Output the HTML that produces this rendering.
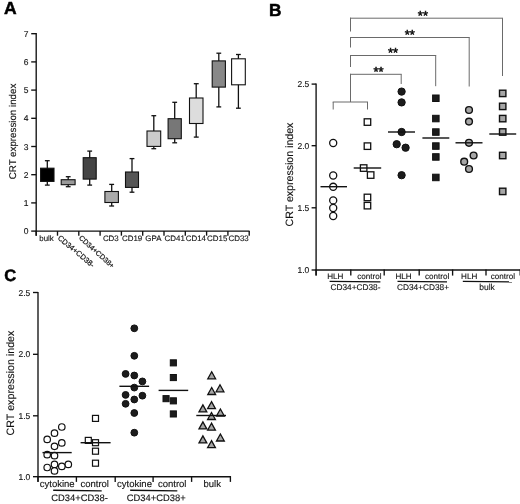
<!DOCTYPE html>
<html><head><meta charset="utf-8"><title>Figure</title>
<style>
html,body{margin:0;padding:0;background:#fff;}
body{width:520px;height:504px;overflow:hidden;font-family:"Liberation Sans",sans-serif;}
svg{display:block;}
svg text{font-family:"Liberation Sans",sans-serif;text-rendering:geometricPrecision;}
</style></head><body>
<svg width="520" height="504" viewBox="0 0 520 504" style="filter:grayscale(1)">
<rect width="520" height="504" fill="#fff"/>
<text x="3.9" y="14.3" font-size="17.5" text-anchor="start" font-weight="bold" fill="#000" stroke="#000" stroke-width="0.5">A</text>
<text x="268.9" y="15.5" font-size="17.3" text-anchor="start" font-weight="bold" fill="#000" stroke="#000" stroke-width="0.5">B</text>
<text x="4.3" y="280.8" font-size="16.5" text-anchor="start" font-weight="bold" fill="#000" stroke="#000" stroke-width="0.5">C</text>
<line x1="36.2" y1="33.1" x2="36.2" y2="235.7" stroke="#111" stroke-width="1.35"/>
<line x1="35.7" y1="231.1" x2="249.5" y2="231.1" stroke="#111" stroke-width="1.35"/>
<line x1="31.2" y1="231.1" x2="36.2" y2="231.1" stroke="#111" stroke-width="1.35"/>
<text x="28.6" y="234.1" font-size="8.5" text-anchor="end" font-weight="normal" fill="#111" stroke="#111" stroke-width="0.12">0</text>
<line x1="31.2" y1="202.9" x2="36.2" y2="202.9" stroke="#111" stroke-width="1.35"/>
<text x="28.6" y="205.9" font-size="8.5" text-anchor="end" font-weight="normal" fill="#111" stroke="#111" stroke-width="0.12">1</text>
<line x1="31.2" y1="174.7" x2="36.2" y2="174.7" stroke="#111" stroke-width="1.35"/>
<text x="28.6" y="177.7" font-size="8.5" text-anchor="end" font-weight="normal" fill="#111" stroke="#111" stroke-width="0.12">2</text>
<line x1="31.2" y1="146.5" x2="36.2" y2="146.5" stroke="#111" stroke-width="1.35"/>
<text x="28.6" y="149.5" font-size="8.5" text-anchor="end" font-weight="normal" fill="#111" stroke="#111" stroke-width="0.12">3</text>
<line x1="31.2" y1="118.3" x2="36.2" y2="118.3" stroke="#111" stroke-width="1.35"/>
<text x="28.6" y="121.3" font-size="8.5" text-anchor="end" font-weight="normal" fill="#111" stroke="#111" stroke-width="0.12">4</text>
<line x1="31.2" y1="90.1" x2="36.2" y2="90.1" stroke="#111" stroke-width="1.35"/>
<text x="28.6" y="93.1" font-size="8.5" text-anchor="end" font-weight="normal" fill="#111" stroke="#111" stroke-width="0.12">5</text>
<line x1="31.2" y1="61.9" x2="36.2" y2="61.9" stroke="#111" stroke-width="1.35"/>
<text x="28.6" y="64.9" font-size="8.5" text-anchor="end" font-weight="normal" fill="#111" stroke="#111" stroke-width="0.12">6</text>
<line x1="31.2" y1="33.7" x2="36.2" y2="33.7" stroke="#111" stroke-width="1.35"/>
<text x="28.6" y="36.7" font-size="8.5" text-anchor="end" font-weight="normal" fill="#111" stroke="#111" stroke-width="0.12">7</text>
<line x1="36.2" y1="231.1" x2="36.2" y2="235.7" stroke="#111" stroke-width="1.35"/>
<line x1="57.5" y1="231.1" x2="57.5" y2="235.7" stroke="#111" stroke-width="1.35"/>
<line x1="78.8" y1="231.1" x2="78.8" y2="235.7" stroke="#111" stroke-width="1.35"/>
<line x1="100.1" y1="231.1" x2="100.1" y2="235.7" stroke="#111" stroke-width="1.35"/>
<line x1="121.4" y1="231.1" x2="121.4" y2="235.7" stroke="#111" stroke-width="1.35"/>
<line x1="142.7" y1="231.1" x2="142.7" y2="235.7" stroke="#111" stroke-width="1.35"/>
<line x1="164.0" y1="231.1" x2="164.0" y2="235.7" stroke="#111" stroke-width="1.35"/>
<line x1="185.3" y1="231.1" x2="185.3" y2="235.7" stroke="#111" stroke-width="1.35"/>
<line x1="206.6" y1="231.1" x2="206.6" y2="235.7" stroke="#111" stroke-width="1.35"/>
<line x1="227.9" y1="231.1" x2="227.9" y2="235.7" stroke="#111" stroke-width="1.35"/>
<line x1="249.2" y1="231.1" x2="249.2" y2="235.7" stroke="#111" stroke-width="1.35"/>
<text x="15.6" y="131.5" font-size="9.75" text-anchor="middle" font-weight="normal" fill="#111" stroke="#111" stroke-width="0.12" transform="rotate(-90 15.6 131.5)">CRT expression index</text>
<line x1="47.3" y1="160.7" x2="47.3" y2="185.1" stroke="#111" stroke-width="1.3"/>
<line x1="44.9" y1="160.7" x2="49.7" y2="160.7" stroke="#111" stroke-width="1.3"/>
<line x1="44.9" y1="185.1" x2="49.7" y2="185.1" stroke="#111" stroke-width="1.3"/>
<rect x="40.6" y="168.2" width="13.4" height="13.2" fill="#000" stroke="#111" stroke-width="1.1"/>
<line x1="68.2" y1="176.7" x2="68.2" y2="186.7" stroke="#111" stroke-width="1.3"/>
<line x1="65.8" y1="176.7" x2="70.6" y2="176.7" stroke="#111" stroke-width="1.3"/>
<line x1="65.8" y1="186.7" x2="70.6" y2="186.7" stroke="#111" stroke-width="1.3"/>
<rect x="61.2" y="179.7" width="13.9" height="5.0" fill="#999" stroke="#111" stroke-width="1.1"/>
<line x1="89.7" y1="151.1" x2="89.7" y2="185.1" stroke="#111" stroke-width="1.3"/>
<line x1="87.3" y1="151.1" x2="92.1" y2="151.1" stroke="#111" stroke-width="1.3"/>
<line x1="87.3" y1="185.1" x2="92.1" y2="185.1" stroke="#111" stroke-width="1.3"/>
<rect x="83.2" y="157.7" width="13.0" height="21.4" fill="#444" stroke="#111" stroke-width="1.1"/>
<line x1="111.7" y1="184.4" x2="111.7" y2="206.0" stroke="#111" stroke-width="1.3"/>
<line x1="109.2" y1="184.4" x2="114.1" y2="184.4" stroke="#111" stroke-width="1.3"/>
<line x1="109.2" y1="206.0" x2="114.1" y2="206.0" stroke="#111" stroke-width="1.3"/>
<rect x="104.9" y="191.5" width="13.5" height="11.0" fill="#aaa" stroke="#111" stroke-width="1.1"/>
<line x1="132.0" y1="158.6" x2="132.0" y2="192.2" stroke="#111" stroke-width="1.3"/>
<line x1="129.6" y1="158.6" x2="134.4" y2="158.6" stroke="#111" stroke-width="1.3"/>
<line x1="129.6" y1="192.2" x2="134.4" y2="192.2" stroke="#111" stroke-width="1.3"/>
<rect x="125.5" y="172.0" width="13.0" height="15.4" fill="#555" stroke="#111" stroke-width="1.1"/>
<line x1="153.8" y1="115.7" x2="153.8" y2="148.7" stroke="#111" stroke-width="1.3"/>
<line x1="151.4" y1="115.7" x2="156.2" y2="115.7" stroke="#111" stroke-width="1.3"/>
<line x1="151.4" y1="148.7" x2="156.2" y2="148.7" stroke="#111" stroke-width="1.3"/>
<rect x="147.0" y="131.0" width="13.7" height="15.4" fill="#ccc" stroke="#111" stroke-width="1.1"/>
<line x1="174.7" y1="102.3" x2="174.7" y2="142.8" stroke="#111" stroke-width="1.3"/>
<line x1="172.3" y1="102.3" x2="177.1" y2="102.3" stroke="#111" stroke-width="1.3"/>
<line x1="172.3" y1="142.8" x2="177.1" y2="142.8" stroke="#111" stroke-width="1.3"/>
<rect x="168.1" y="118.7" width="13.2" height="20.0" fill="#777" stroke="#111" stroke-width="1.1"/>
<line x1="196.2" y1="83.7" x2="196.2" y2="137.1" stroke="#111" stroke-width="1.3"/>
<line x1="193.8" y1="83.7" x2="198.7" y2="83.7" stroke="#111" stroke-width="1.3"/>
<line x1="193.8" y1="137.1" x2="198.7" y2="137.1" stroke="#111" stroke-width="1.3"/>
<rect x="189.5" y="98.0" width="13.5" height="25.5" fill="#ddd" stroke="#111" stroke-width="1.1"/>
<line x1="218.8" y1="53.2" x2="218.8" y2="106.9" stroke="#111" stroke-width="1.3"/>
<line x1="216.4" y1="53.2" x2="221.2" y2="53.2" stroke="#111" stroke-width="1.3"/>
<line x1="216.4" y1="106.9" x2="221.2" y2="106.9" stroke="#111" stroke-width="1.3"/>
<rect x="212.2" y="60.9" width="13.2" height="26.2" fill="#888" stroke="#111" stroke-width="1.1"/>
<line x1="238.4" y1="54.5" x2="238.4" y2="108.2" stroke="#111" stroke-width="1.3"/>
<line x1="236.0" y1="54.5" x2="240.8" y2="54.5" stroke="#111" stroke-width="1.3"/>
<line x1="236.0" y1="108.2" x2="240.8" y2="108.2" stroke="#111" stroke-width="1.3"/>
<rect x="231.6" y="58.8" width="13.7" height="26.0" fill="#fff" stroke="#111" stroke-width="1.1"/>
<text x="46.6" y="240.5" font-size="7.9" text-anchor="middle" font-weight="normal" fill="#111" stroke="#111" stroke-width="0.12">bulk</text>
<text x="110.8" y="240.5" font-size="7.9" text-anchor="middle" font-weight="normal" fill="#111" stroke="#111" stroke-width="0.12">CD3</text>
<text x="132.1" y="240.5" font-size="7.9" text-anchor="middle" font-weight="normal" fill="#111" stroke="#111" stroke-width="0.12">CD19</text>
<text x="153.4" y="240.5" font-size="7.9" text-anchor="middle" font-weight="normal" fill="#111" stroke="#111" stroke-width="0.12">GPA</text>
<text x="174.7" y="240.5" font-size="7.9" text-anchor="middle" font-weight="normal" fill="#111" stroke="#111" stroke-width="0.12">CD41</text>
<text x="195.9" y="240.5" font-size="7.9" text-anchor="middle" font-weight="normal" fill="#111" stroke="#111" stroke-width="0.12">CD14</text>
<text x="217.2" y="240.5" font-size="7.9" text-anchor="middle" font-weight="normal" fill="#111" stroke="#111" stroke-width="0.12">CD15</text>
<text x="238.6" y="240.5" font-size="7.9" text-anchor="middle" font-weight="normal" fill="#111" stroke="#111" stroke-width="0.12">CD33</text>
<text x="60.7" y="234.6" font-size="7.5" fill="#111" stroke="#111" stroke-width="0.2" transform="rotate(40 60.7 234.6)" dy="5.4">CD34+CD38-</text>
<text x="82.0" y="234.6" font-size="7.15" fill="#111" stroke="#111" stroke-width="0.2" transform="rotate(42 82.0 234.6)" dy="5.4">CD34+CD38+</text>
<line x1="316.1" y1="83.5" x2="316.1" y2="275.4" stroke="#111" stroke-width="1.35"/>
<line x1="315.6" y1="270.0" x2="520.0" y2="270.0" stroke="#111" stroke-width="1.35"/>
<line x1="311.6" y1="270.0" x2="316.1" y2="270.0" stroke="#111" stroke-width="1.35"/>
<text x="309.3" y="273.0" font-size="8.5" text-anchor="end" font-weight="normal" fill="#111" stroke="#111" stroke-width="0.12">1.0</text>
<line x1="311.6" y1="207.8" x2="316.1" y2="207.8" stroke="#111" stroke-width="1.35"/>
<text x="309.3" y="210.8" font-size="8.5" text-anchor="end" font-weight="normal" fill="#111" stroke="#111" stroke-width="0.12">1.5</text>
<line x1="311.6" y1="145.7" x2="316.1" y2="145.7" stroke="#111" stroke-width="1.35"/>
<text x="309.3" y="148.7" font-size="8.5" text-anchor="end" font-weight="normal" fill="#111" stroke="#111" stroke-width="0.12">2.0</text>
<line x1="311.6" y1="84.1" x2="316.1" y2="84.1" stroke="#111" stroke-width="1.35"/>
<text x="309.3" y="87.1" font-size="8.5" text-anchor="end" font-weight="normal" fill="#111" stroke="#111" stroke-width="0.12">2.5</text>
<line x1="316.1" y1="269.5" x2="316.1" y2="275.6" stroke="#111" stroke-width="1.35"/>
<line x1="350.8" y1="269.5" x2="350.8" y2="275.6" stroke="#111" stroke-width="1.35"/>
<line x1="384.2" y1="269.5" x2="384.2" y2="275.6" stroke="#111" stroke-width="1.35"/>
<line x1="419.2" y1="269.5" x2="419.2" y2="275.6" stroke="#111" stroke-width="1.35"/>
<line x1="452.6" y1="269.5" x2="452.6" y2="275.6" stroke="#111" stroke-width="1.35"/>
<line x1="486.0" y1="269.5" x2="486.0" y2="275.6" stroke="#111" stroke-width="1.35"/>
<line x1="520.2" y1="269.5" x2="520.2" y2="275.6" stroke="#111" stroke-width="1.35"/>
<text x="293.2" y="174.5" font-size="10.6" text-anchor="middle" font-weight="normal" fill="#111" stroke="#111" stroke-width="0.12" transform="rotate(-90 293.2 174.5)">CRT expression index</text>
<line x1="350.5" y1="31.5" x2="350.5" y2="17.7" stroke="#6a6a6a" stroke-width="1.0"/>
<line x1="350.0" y1="18.2" x2="503.0" y2="18.2" stroke="#6a6a6a" stroke-width="1.0"/>
<line x1="502.5" y1="18.2" x2="502.5" y2="76.0" stroke="#6a6a6a" stroke-width="1.0"/>
<line x1="350.5" y1="47.5" x2="350.5" y2="37.0" stroke="#6a6a6a" stroke-width="1.0"/>
<line x1="350.0" y1="37.5" x2="469.7" y2="37.5" stroke="#6a6a6a" stroke-width="1.0"/>
<line x1="469.2" y1="37.5" x2="469.2" y2="86.5" stroke="#6a6a6a" stroke-width="1.0"/>
<line x1="350.5" y1="67.0" x2="350.5" y2="55.0" stroke="#6a6a6a" stroke-width="1.0"/>
<line x1="350.0" y1="55.5" x2="436.2" y2="55.5" stroke="#6a6a6a" stroke-width="1.0"/>
<line x1="435.7" y1="55.5" x2="435.7" y2="86.2" stroke="#6a6a6a" stroke-width="1.0"/>
<line x1="350.5" y1="102.0" x2="350.5" y2="73.8" stroke="#6a6a6a" stroke-width="1.0"/>
<line x1="350.0" y1="74.3" x2="401.7" y2="74.3" stroke="#6a6a6a" stroke-width="1.0"/>
<line x1="401.2" y1="74.3" x2="401.2" y2="84.0" stroke="#6a6a6a" stroke-width="1.0"/>
<line x1="333.2" y1="109.5" x2="333.2" y2="102.0" stroke="#6a6a6a" stroke-width="1.0"/>
<line x1="332.7" y1="102.0" x2="368.0" y2="102.0" stroke="#6a6a6a" stroke-width="1.0"/>
<line x1="367.5" y1="102.0" x2="367.5" y2="109.5" stroke="#6a6a6a" stroke-width="1.0"/>
<text x="422.9" y="19.7" font-size="13" text-anchor="middle" fill="#111" stroke="#111" stroke-width="0.55">**</text>
<text x="409.7" y="39.2" font-size="13" text-anchor="middle" fill="#111" stroke="#111" stroke-width="0.55">**</text>
<text x="393.0" y="57.0" font-size="13" text-anchor="middle" fill="#111" stroke="#111" stroke-width="0.55">**</text>
<text x="378.6" y="76.2" font-size="13" text-anchor="middle" fill="#111" stroke="#111" stroke-width="0.55">**</text>
<circle cx="333.2" cy="143.0" r="3.55" fill="#fff" stroke="#111" stroke-width="1.3"/>
<circle cx="333.2" cy="175.5" r="3.55" fill="#fff" stroke="#111" stroke-width="1.3"/>
<circle cx="333.2" cy="186.8" r="3.55" fill="#fff" stroke="#111" stroke-width="1.3"/>
<circle cx="333.2" cy="200.4" r="3.55" fill="#fff" stroke="#111" stroke-width="1.3"/>
<circle cx="333.2" cy="208.0" r="3.55" fill="#fff" stroke="#111" stroke-width="1.3"/>
<circle cx="333.2" cy="216.0" r="3.55" fill="#fff" stroke="#111" stroke-width="1.3"/>
<line x1="320.5" y1="186.7" x2="347.0" y2="186.7" stroke="#111" stroke-width="1.4"/>
<rect x="364.2" y="118.8" width="6.5" height="6.5" fill="#fff" stroke="#111" stroke-width="1.3"/>
<rect x="364.2" y="142.9" width="6.5" height="6.5" fill="#fff" stroke="#111" stroke-width="1.3"/>
<rect x="360.4" y="164.8" width="6.5" height="6.5" fill="#fff" stroke="#111" stroke-width="1.3"/>
<rect x="367.4" y="171.8" width="6.5" height="6.5" fill="#fff" stroke="#111" stroke-width="1.3"/>
<rect x="364.2" y="194.2" width="6.5" height="6.5" fill="#fff" stroke="#111" stroke-width="1.3"/>
<rect x="364.2" y="202.4" width="6.5" height="6.5" fill="#fff" stroke="#111" stroke-width="1.3"/>
<line x1="353.7" y1="168.0" x2="381.2" y2="168.0" stroke="#111" stroke-width="1.4"/>
<circle cx="401.6" cy="91.6" r="3.65" fill="#1c1c1c" stroke="#111" stroke-width="1.0"/>
<circle cx="401.6" cy="102.4" r="3.65" fill="#1c1c1c" stroke="#111" stroke-width="1.0"/>
<circle cx="401.6" cy="132.0" r="3.65" fill="#1c1c1c" stroke="#111" stroke-width="1.0"/>
<circle cx="396.7" cy="144.2" r="3.65" fill="#1c1c1c" stroke="#111" stroke-width="1.0"/>
<circle cx="405.6" cy="147.7" r="3.65" fill="#1c1c1c" stroke="#111" stroke-width="1.0"/>
<circle cx="401.6" cy="175.2" r="3.65" fill="#1c1c1c" stroke="#111" stroke-width="1.0"/>
<line x1="388.0" y1="132.0" x2="415.0" y2="132.0" stroke="#111" stroke-width="1.4"/>
<rect x="432.6" y="95.0" width="6.5" height="6.5" fill="#1c1c1c" stroke="#111" stroke-width="1.0"/>
<rect x="432.6" y="115.3" width="6.5" height="6.5" fill="#1c1c1c" stroke="#111" stroke-width="1.0"/>
<rect x="432.6" y="128.8" width="6.5" height="6.5" fill="#1c1c1c" stroke="#111" stroke-width="1.0"/>
<rect x="432.6" y="142.8" width="6.5" height="6.5" fill="#1c1c1c" stroke="#111" stroke-width="1.0"/>
<rect x="432.6" y="153.7" width="6.5" height="6.5" fill="#1c1c1c" stroke="#111" stroke-width="1.0"/>
<rect x="432.6" y="174.2" width="6.5" height="6.5" fill="#1c1c1c" stroke="#111" stroke-width="1.0"/>
<line x1="422.4" y1="138.0" x2="449.3" y2="138.0" stroke="#111" stroke-width="1.4"/>
<circle cx="469.0" cy="110.0" r="3.4" fill="#a6a6a6" stroke="#111" stroke-width="1.4"/>
<circle cx="469.0" cy="121.6" r="3.4" fill="#a6a6a6" stroke="#111" stroke-width="1.4"/>
<circle cx="469.0" cy="142.8" r="3.4" fill="#a6a6a6" stroke="#111" stroke-width="1.4"/>
<circle cx="473.6" cy="155.5" r="3.4" fill="#a6a6a6" stroke="#111" stroke-width="1.4"/>
<circle cx="464.2" cy="161.7" r="3.4" fill="#a6a6a6" stroke="#111" stroke-width="1.4"/>
<circle cx="469.0" cy="169.0" r="3.4" fill="#a6a6a6" stroke="#111" stroke-width="1.4"/>
<line x1="455.5" y1="142.8" x2="482.5" y2="142.8" stroke="#111" stroke-width="1.4"/>
<rect x="499.5" y="90.2" width="6.4" height="6.4" fill="#a6a6a6" stroke="#111" stroke-width="1.4"/>
<rect x="499.5" y="103.2" width="6.4" height="6.4" fill="#a6a6a6" stroke="#111" stroke-width="1.4"/>
<rect x="499.5" y="115.4" width="6.4" height="6.4" fill="#a6a6a6" stroke="#111" stroke-width="1.4"/>
<rect x="499.5" y="128.8" width="6.4" height="6.4" fill="#a6a6a6" stroke="#111" stroke-width="1.4"/>
<rect x="499.5" y="152.3" width="6.4" height="6.4" fill="#a6a6a6" stroke="#111" stroke-width="1.4"/>
<rect x="499.5" y="188.2" width="6.4" height="6.4" fill="#a6a6a6" stroke="#111" stroke-width="1.4"/>
<line x1="489.3" y1="134.0" x2="516.2" y2="134.0" stroke="#111" stroke-width="1.4"/>
<text x="335.3" y="279.2" font-size="8.1" text-anchor="middle" font-weight="normal" fill="#111" stroke="#111" stroke-width="0.12">HLH</text>
<text x="369.3" y="279.2" font-size="8.1" text-anchor="middle" font-weight="normal" fill="#111" stroke="#111" stroke-width="0.12">control</text>
<text x="403.5" y="279.2" font-size="8.1" text-anchor="middle" font-weight="normal" fill="#111" stroke="#111" stroke-width="0.12">HLH</text>
<text x="437.2" y="279.2" font-size="8.1" text-anchor="middle" font-weight="normal" fill="#111" stroke="#111" stroke-width="0.12">control</text>
<text x="469.2" y="279.2" font-size="8.1" text-anchor="middle" font-weight="normal" fill="#111" stroke="#111" stroke-width="0.12">HLH</text>
<text x="502.9" y="279.2" font-size="8.1" text-anchor="middle" font-weight="normal" fill="#111" stroke="#111" stroke-width="0.12">control</text>
<line x1="329.6" y1="281.4" x2="380.4" y2="281.9" stroke="#111" stroke-width="1.4"/>
<text x="355.5" y="290.0" font-size="8.3" text-anchor="middle" font-weight="normal" fill="#111" stroke="#111" stroke-width="0.12">CD34+CD38-</text>
<line x1="397.5" y1="281.4" x2="447.0" y2="281.9" stroke="#111" stroke-width="1.4"/>
<text x="423.0" y="290.0" font-size="8.3" text-anchor="middle" font-weight="normal" fill="#111" stroke="#111" stroke-width="0.12">CD34+CD38+</text>
<line x1="462.8" y1="281.4" x2="512.0" y2="281.9" stroke="#111" stroke-width="1.4"/>
<text x="487.0" y="290.0" font-size="8.5" text-anchor="middle" font-weight="normal" fill="#111" stroke="#111" stroke-width="0.12">bulk</text>
<line x1="38.0" y1="291.9" x2="38.0" y2="481.7" stroke="#111" stroke-width="1.35"/>
<line x1="37.5" y1="476.7" x2="230.9" y2="476.7" stroke="#111" stroke-width="1.35"/>
<line x1="33.0" y1="476.7" x2="38.0" y2="476.7" stroke="#111" stroke-width="1.35"/>
<text x="30.3" y="479.7" font-size="8.5" text-anchor="end" font-weight="normal" fill="#111" stroke="#111" stroke-width="0.12">1.0</text>
<line x1="33.0" y1="415.8" x2="38.0" y2="415.8" stroke="#111" stroke-width="1.35"/>
<text x="30.3" y="418.8" font-size="8.5" text-anchor="end" font-weight="normal" fill="#111" stroke="#111" stroke-width="0.12">1.5</text>
<line x1="33.0" y1="354.3" x2="38.0" y2="354.3" stroke="#111" stroke-width="1.35"/>
<text x="30.3" y="357.3" font-size="8.5" text-anchor="end" font-weight="normal" fill="#111" stroke="#111" stroke-width="0.12">2.0</text>
<line x1="33.0" y1="292.5" x2="38.0" y2="292.5" stroke="#111" stroke-width="1.35"/>
<text x="30.3" y="295.5" font-size="8.5" text-anchor="end" font-weight="normal" fill="#111" stroke="#111" stroke-width="0.12">2.5</text>
<line x1="38.0" y1="476.2" x2="38.0" y2="481.9" stroke="#111" stroke-width="1.35"/>
<line x1="76.4" y1="476.2" x2="76.4" y2="481.9" stroke="#111" stroke-width="1.35"/>
<line x1="115.2" y1="476.2" x2="115.2" y2="481.9" stroke="#111" stroke-width="1.35"/>
<line x1="153.1" y1="476.2" x2="153.1" y2="481.9" stroke="#111" stroke-width="1.35"/>
<line x1="191.6" y1="476.2" x2="191.6" y2="481.9" stroke="#111" stroke-width="1.35"/>
<line x1="230.4" y1="476.2" x2="230.4" y2="481.9" stroke="#111" stroke-width="1.35"/>
<text x="14.0" y="383.0" font-size="10.7" text-anchor="middle" font-weight="normal" fill="#111" stroke="#111" stroke-width="0.12" transform="rotate(-90 14.0 383.0)">CRT expression index</text>
<circle cx="61.8" cy="427.0" r="3.25" fill="#fff" stroke="#111" stroke-width="1.2"/>
<circle cx="54.5" cy="433.2" r="3.25" fill="#fff" stroke="#111" stroke-width="1.2"/>
<circle cx="47.2" cy="439.4" r="3.25" fill="#fff" stroke="#111" stroke-width="1.2"/>
<circle cx="61.8" cy="442.9" r="3.25" fill="#fff" stroke="#111" stroke-width="1.2"/>
<circle cx="54.5" cy="446.3" r="3.25" fill="#fff" stroke="#111" stroke-width="1.2"/>
<circle cx="47.2" cy="454.7" r="3.25" fill="#fff" stroke="#111" stroke-width="1.2"/>
<circle cx="54.5" cy="455.7" r="3.25" fill="#fff" stroke="#111" stroke-width="1.2"/>
<circle cx="54.5" cy="464.4" r="3.25" fill="#fff" stroke="#111" stroke-width="1.2"/>
<circle cx="68.3" cy="464.4" r="3.25" fill="#fff" stroke="#111" stroke-width="1.2"/>
<circle cx="47.2" cy="467.5" r="3.25" fill="#fff" stroke="#111" stroke-width="1.2"/>
<circle cx="61.8" cy="466.4" r="3.25" fill="#fff" stroke="#111" stroke-width="1.2"/>
<circle cx="54.5" cy="470.9" r="3.25" fill="#fff" stroke="#111" stroke-width="1.2"/>
<line x1="42.5" y1="452.6" x2="71.7" y2="452.6" stroke="#111" stroke-width="1.4"/>
<rect x="92.5" y="415.4" width="6.0" height="6.0" fill="#fff" stroke="#111" stroke-width="1.2"/>
<rect x="85.3" y="437.4" width="6.0" height="6.0" fill="#fff" stroke="#111" stroke-width="1.2"/>
<rect x="92.5" y="439.7" width="6.0" height="6.0" fill="#fff" stroke="#111" stroke-width="1.2"/>
<rect x="92.5" y="448.2" width="6.0" height="6.0" fill="#fff" stroke="#111" stroke-width="1.2"/>
<rect x="92.5" y="460.2" width="6.0" height="6.0" fill="#fff" stroke="#111" stroke-width="1.2"/>
<line x1="80.6" y1="442.7" x2="110.6" y2="442.7" stroke="#111" stroke-width="1.4"/>
<circle cx="134.3" cy="328.3" r="3.4" fill="#1c1c1c" stroke="#111" stroke-width="1.0"/>
<circle cx="134.3" cy="355.8" r="3.4" fill="#1c1c1c" stroke="#111" stroke-width="1.0"/>
<circle cx="125.6" cy="373.9" r="3.4" fill="#1c1c1c" stroke="#111" stroke-width="1.0"/>
<circle cx="134.3" cy="375.5" r="3.4" fill="#1c1c1c" stroke="#111" stroke-width="1.0"/>
<circle cx="142.4" cy="381.4" r="3.4" fill="#1c1c1c" stroke="#111" stroke-width="1.0"/>
<circle cx="134.3" cy="387.6" r="3.4" fill="#1c1c1c" stroke="#111" stroke-width="1.0"/>
<circle cx="125.6" cy="394.9" r="3.4" fill="#1c1c1c" stroke="#111" stroke-width="1.0"/>
<circle cx="142.4" cy="395.7" r="3.4" fill="#1c1c1c" stroke="#111" stroke-width="1.0"/>
<circle cx="134.3" cy="399.5" r="3.4" fill="#1c1c1c" stroke="#111" stroke-width="1.0"/>
<circle cx="125.6" cy="403.8" r="3.4" fill="#1c1c1c" stroke="#111" stroke-width="1.0"/>
<circle cx="134.3" cy="413.0" r="3.4" fill="#1c1c1c" stroke="#111" stroke-width="1.0"/>
<circle cx="134.3" cy="432.7" r="3.4" fill="#1c1c1c" stroke="#111" stroke-width="1.0"/>
<line x1="119.4" y1="386.3" x2="149.1" y2="386.3" stroke="#111" stroke-width="1.4"/>
<rect x="170.3" y="359.8" width="6.1" height="6.1" fill="#1c1c1c" stroke="#111" stroke-width="1.0"/>
<rect x="170.3" y="374.5" width="6.1" height="6.1" fill="#1c1c1c" stroke="#111" stroke-width="1.0"/>
<rect x="163.0" y="395.6" width="6.1" height="6.1" fill="#1c1c1c" stroke="#111" stroke-width="1.0"/>
<rect x="170.3" y="397.8" width="6.1" height="6.1" fill="#1c1c1c" stroke="#111" stroke-width="1.0"/>
<rect x="170.3" y="410.9" width="6.1" height="6.1" fill="#1c1c1c" stroke="#111" stroke-width="1.0"/>
<line x1="158.6" y1="390.4" x2="188.2" y2="390.4" stroke="#111" stroke-width="1.4"/>
<polygon points="211.7,371.8 207.8,378.8 215.6,378.8" fill="#a6a6a6" stroke="#111" stroke-width="1.3" stroke-linejoin="miter"/>
<polygon points="211.7,387.5 207.8,394.5 215.6,394.5" fill="#a6a6a6" stroke="#111" stroke-width="1.3" stroke-linejoin="miter"/>
<polygon points="220.0,384.8 216.1,391.8 223.9,391.8" fill="#a6a6a6" stroke="#111" stroke-width="1.3" stroke-linejoin="miter"/>
<polygon points="202.9,404.9 199.0,411.9 206.8,411.9" fill="#a6a6a6" stroke="#111" stroke-width="1.3" stroke-linejoin="miter"/>
<polygon points="211.5,401.7 207.6,408.7 215.4,408.7" fill="#a6a6a6" stroke="#111" stroke-width="1.3" stroke-linejoin="miter"/>
<polygon points="220.4,409.0 216.5,416.0 224.3,416.0" fill="#a6a6a6" stroke="#111" stroke-width="1.3" stroke-linejoin="miter"/>
<polygon points="211.5,412.5 207.6,419.5 215.4,419.5" fill="#a6a6a6" stroke="#111" stroke-width="1.3" stroke-linejoin="miter"/>
<polygon points="202.9,421.9 199.0,428.9 206.8,428.9" fill="#a6a6a6" stroke="#111" stroke-width="1.3" stroke-linejoin="miter"/>
<polygon points="211.5,423.2 207.6,430.2 215.4,430.2" fill="#a6a6a6" stroke="#111" stroke-width="1.3" stroke-linejoin="miter"/>
<polygon points="202.9,435.9 199.0,442.9 206.8,442.9" fill="#a6a6a6" stroke="#111" stroke-width="1.3" stroke-linejoin="miter"/>
<polygon points="220.4,434.0 216.5,441.0 224.3,441.0" fill="#a6a6a6" stroke="#111" stroke-width="1.3" stroke-linejoin="miter"/>
<polygon points="211.5,440.7 207.6,447.7 215.4,447.7" fill="#a6a6a6" stroke="#111" stroke-width="1.3" stroke-linejoin="miter"/>
<line x1="196.3" y1="415.5" x2="226.0" y2="415.5" stroke="#111" stroke-width="1.4"/>
<text x="57.2" y="486.6" font-size="9.5" text-anchor="middle" font-weight="normal" fill="#111" stroke="#111" stroke-width="0.12">cytokine</text>
<text x="94.7" y="486.6" font-size="9.5" text-anchor="middle" font-weight="normal" fill="#111" stroke="#111" stroke-width="0.12">control</text>
<text x="134.5" y="486.6" font-size="9.5" text-anchor="middle" font-weight="normal" fill="#111" stroke="#111" stroke-width="0.12">cytokine</text>
<text x="172.2" y="486.6" font-size="9.5" text-anchor="middle" font-weight="normal" fill="#111" stroke="#111" stroke-width="0.12">control</text>
<text x="212.2" y="486.6" font-size="9.5" text-anchor="middle" font-weight="normal" fill="#111" stroke="#111" stroke-width="0.12">bulk</text>
<line x1="53.2" y1="490.2" x2="101.7" y2="490.9" stroke="#111" stroke-width="1.4"/>
<text x="79.5" y="500.8" font-size="9.4" text-anchor="middle" font-weight="normal" fill="#111" stroke="#111" stroke-width="0.12">CD34+CD38-</text>
<line x1="130.2" y1="490.2" x2="177.3" y2="490.9" stroke="#111" stroke-width="1.4"/>
<text x="156.2" y="500.8" font-size="9.4" text-anchor="middle" font-weight="normal" fill="#111" stroke="#111" stroke-width="0.12">CD34+CD38+</text>
</svg>
</body></html>
